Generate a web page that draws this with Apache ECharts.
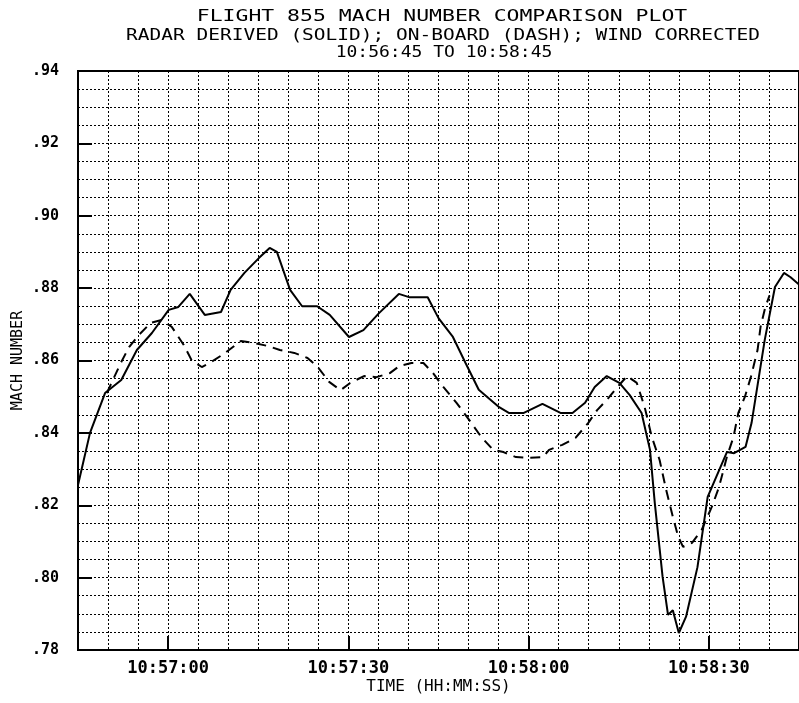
<!DOCTYPE html>
<html>
<head>
<meta charset="utf-8">
<script src="https://cdn.jsdelivr.net/npm/echarts@6/dist/echarts.min.js"></script>
<style>html,body{margin:0;padding:0;background:#fff;}#chart{width:799px;height:703px;}</style>
</head>
<body>
<div id="chart"></div>
<script>
// Time in seconds after 10:56:45
const solidTime = [0,2.0,4.5,7.2,9.8,12.3,15.1,16.7,18.6,21.1,23.8,25.4,27.7,30.1,31.9,33.1,35.3,37.3,39.8,41.9,45.1,47.5,50.1,53.4,55.1,58.2,60.0,62.4,64.5,66.7,70.1,71.7,74.2,77.3,80.3,82.3,84.4,86.0,88.0,90.1,91.8,93.8,95.2,96.0,97.3,98.2,99.0,100.0,101.2,103.1,104.8,108.0,109.2,111.1,112.1,114.3,116.0,117.5,118.6,120];
const solidMach = [.8256,.840,.851,.8546,.8629,.8676,.874,.8748,.8784,.8726,.8734,.8795,.8842,.8883,.8911,.890,.8795,.875,.875,.8726,.8665,.8684,.8731,.8784,.8775,.8775,.8717,.8665,.8593,.8519,.8471,.8455,.8455,.848,.8455,.8455,.8483,.8527,.8557,.8538,.8505,.8455,.8353,.8206,.8002,.7897,.791,.7847,.7892,.8029,.8223,.8347,.8344,.8361,.8427,.8657,.8803,.8842,.883,.881];
const dashTime = [4.8,5.8,7.2,8.5,10.1,12.1,13.9,15.6,17.6,18.9,20.6,22.2,24.5,27.1,29.4,31.6,33.6,36.0,38.2,39.9,41.8,43.7,45.3,47.6,49.7,51.9,53.5,55.5,57.5,59.1,60.8,63.0,65.1,67.1,69.1,70.8,72.9,75.1,77.4,78.4,80.6,82.8,84.9,86.4,88.0,89.8,91.4,93.0,94.3,95.5,96.8,97.9,99.0,99.9,100.7,102.2,103.8,105.5,106.7,108.0,109.1,109.9,111.0,112.0,113.1,113.6,114.4,115.1];
const dashMach = [.851,.8546,.8596,.8637,.867,.8704,.8712,.8693,.8643,.8601,.8582,.8596,.8621,.8654,.8648,.864,.8629,.8621,.8607,.8582,.8541,.8518,.8538,.8557,.8554,.8565,.8585,.8593,.8593,.8565,.8527,.8483,.8436,.8389,.8353,.8347,.8333,.8331,.8333,.8353,.8367,.8386,.8427,.8463,.8491,.8527,.8557,.8538,.8472,.8389,.8325,.8242,.8168,.8113,.8085,.8096,.8132,.8196,.8251,.8334,.8389,.8455,.85,.8555,.8629,.8693,.8748,.878];
const xTickValues = [15,45,75,105];
const xTickLabels = ['10:57:00','10:57:30','10:58:00','10:58:30'];
const yTickValues = [.78,.80,.82,.84,.86,.88,.90,.92,.94];
const yTickLabels = ['.78','.80','.82','.84','.86','.88','.90','.92','.94'];
const titleLines = ['FLIGHT 855 MACH NUMBER COMPARISON PLOT','RADAR DERIVED (SOLID); ON-BOARD (DASH); WIND CORRECTED','10:56:45 TO 10:58:45'];

const FONT = '"DejaVu Sans Mono", "Liberation Mono", monospace';
const chart = echarts.init(document.getElementById('chart'), null, {renderer:'canvas'});
const zip = (a,b) => a.map((v,i)=>[v,b[i]]);
const gridLine = {show:true, lineStyle:{color:'#000', width:1, type:[2,2]}};
const hidden = {show:false};

chart.setOption({
  animation:false,
  backgroundColor:'#fff',
  grid:{left:78, top:71, width:728, height:579, show:true, borderColor:'#000', borderWidth:2, backgroundColor:'transparent'},
  graphic:[
    {type:'text', x:442, y:17, scaleX:1.34, style:{text:titleLines[0], font:'16px '+FONT, fill:'#000', align:'center', verticalAlign:'middle'}},
    {type:'text', x:443, y:36, scaleX:1.3, style:{text:titleLines[1], font:'15px '+FONT, fill:'#000', align:'center', verticalAlign:'middle'}},
    {type:'text', x:444, y:53, scaleX:1.2, style:{text:titleLines[2], font:'15px '+FONT, fill:'#000', align:'center', verticalAlign:'middle'}}
  ],
  xAxis:[{
    type:'value', min:0, max:120, interval:5,
    name:'TIME (HH:MM:SS)', nameLocation:'middle', nameGap:29, nameMoveOverlap:false,
    nameTextStyle:{fontFamily:FONT, fontSize:16, color:'#000'},
    axisLine:{show:true, lineStyle:{color:'#000', width:2}},
    axisTick:{show:true, inside:true, length:14, customValues:xTickValues, lineStyle:{color:'#000', width:2}},
    axisLabel:{show:true, customValues:xTickValues, margin:10, fontFamily:FONT, fontSize:17, fontWeight:'bold', color:'#000',
      formatter:(v)=>{const i=xTickValues.indexOf(v); return i>=0?xTickLabels[i]:'';}},
    splitLine:hidden, z:3
  },{
    type:'value', min:0, max:120, interval:5, position:'bottom',
    axisLine:hidden, axisTick:hidden, axisLabel:hidden, splitLine:gridLine, z:1
  }],
  yAxis:[{
    type:'value', min:0.78, max:0.94, interval:0.005,
    name:'MACH NUMBER', nameLocation:'middle', nameGap:52, nameMoveOverlap:false,
    nameTextStyle:{fontFamily:FONT, fontSize:15, color:'#000'},
    axisLine:{show:true, lineStyle:{color:'#000', width:2}},
    axisTick:{show:true, inside:true, length:14, customValues:yTickValues, lineStyle:{color:'#000', width:2}},
    axisLabel:{show:true, customValues:yTickValues, margin:19, fontFamily:FONT, fontSize:15, fontWeight:'bold', color:'#000',
      formatter:(v)=>{let best=0;for(let i=0;i<yTickValues.length;i++){if(Math.abs(yTickValues[i]-v)<Math.abs(yTickValues[best]-v))best=i;} return yTickLabels[best];}},
    splitLine:hidden, z:3
  },{
    type:'value', min:0.78, max:0.94, interval:0.005, position:'left',
    axisLine:hidden, axisTick:hidden, axisLabel:hidden, splitLine:gridLine, z:1
  }],
  series:[
    {name:'Radar derived', type:'line', xAxisIndex:0, yAxisIndex:0, data:zip(solidTime, solidMach), showSymbol:false, symbol:'none', smooth:false,
      lineStyle:{color:'#000', width:2, type:'solid'}, z:5},
    {name:'On-board', type:'line', xAxisIndex:0, yAxisIndex:0, data:zip(dashTime, dashMach), showSymbol:false, symbol:'none', smooth:false,
      lineStyle:{color:'#000', width:2, type:[10,7]}, z:5}
  ]
});
</script>
</body>
</html>
